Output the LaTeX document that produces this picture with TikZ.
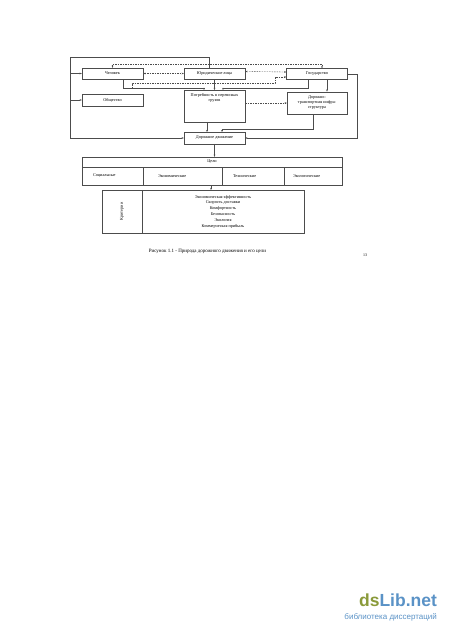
\documentclass[tikz,border=0pt]{standalone}
\usepackage{fontspec}
\setmainfont{Liberation Serif}
\newfontfamily\wmfont{Liberation Sans}
\usetikzlibrary{arrows.meta, positioning, calc}
\definecolor{inkgray}{gray}{0.3}
\definecolor{dsgreen}{HTML}{8A9A3A}
\definecolor{dsblue}{HTML}{5A92C6}
\tikzset{
    blockbox/.style={rectangle, draw=inkgray, line width=0.7pt, minimum width=122pt, minimum height=22pt, inner sep=1pt, align=center, font=\fontsize{8.5}{10}\selectfont},
    cellbox/.style={rectangle, draw=inkgray, line width=0.7pt, inner sep=0pt, font=\fontsize{8.5}{10}\selectfont},
    link/.style={draw=inkgray, line width=0.7pt, ->},
    dlink/.style={link, dash pattern=on 3pt off 2pt},
    plainline/.style={draw=inkgray, line width=0.7pt}
}

\begin{document}
\begin{tikzpicture}[x=2pt, y=-2pt, >={Stealth[length=4.5pt, width=3.5pt]}]
\useasboundingbox (0,0) rectangle (450,637);
% top row
\node[blockbox] (chel) at (112.5,73.5) {Человек};
\node[blockbox] (jur) at (214.5,73.5) {Юридические лица};
\node[blockbox] (gos) at (317,74) {Государство};
% middle row
\node[blockbox, minimum height=24pt] (obsh) at (112.5,100) {Общество};
\node[blockbox, minimum height=63pt] (potr) at (214.5,106) {};
\node[anchor=north, align=center, inner sep=6pt, font=\fontsize{8.5}{10}\selectfont] (potrtxt) at (potr.north) {Потребность в перевозках\\грузов};
\node[blockbox, minimum width=120pt, minimum height=45pt] (dti) at (317,103) {Дорожно-\\транспортная инфра-\\структура};
\node[blockbox, minimum height=23pt] (dd) at (214.5,138) {Дорожное движение};
% goals
\node[cellbox, minimum width=520pt, minimum height=20pt] (celi) at (212,162) {Цели};
\node[cellbox, minimum height=36pt, text width=78pt, inner xsep=22pt, align=left] (cel1) at (112.5,176) {Социальные};
\node[cellbox, minimum height=36pt, text width=98pt, inner xsep=30pt, align=left] (cel2) at (182.5,176) {Экономические};
\node[cellbox, minimum height=36pt, text width=80pt, inner xsep=22pt, align=left] (cel3) at (253,176) {Технические};
\node[cellbox, minimum height=36pt, text width=80pt, inner xsep=18pt, align=left] (cel4) at (313,176) {Экологические};
% criteria
\node[cellbox, rotate=90, minimum width=86pt, minimum height=80pt] (krl) at (122,211.5) {Критерии};
\node[cellbox, minimum width=324pt, minimum height=86pt, align=center, font=\fontsize{8.5}{11.6}\selectfont] (krr) at (223,211.5) {Экономическая эффективность\\Скорость доставки\\Комфортность\\Безопасность\\Экология\\Коммерческая прибыль};
\node[font=\fontsize{10}{12}\selectfont] (capt) at (207.5,251) {Рисунок 1.1 - Природа дорожного движения и его цели};
\node[font=\fontsize{8}{9}\selectfont] (pnum) at (365,255) {13};
% watermark
\node[anchor=east, inner sep=0pt, font=\wmfont\bfseries\fontsize{35}{36}\selectfont] (wm) at (437,600) {\textcolor{dsgreen}{ds}\textcolor{dsblue}{Lib.net}};
\node[anchor=east, inner sep=0pt, text=dsblue, font=\wmfont\fontsize{16}{18}\selectfont] (wmsub) at (437,617) {библиотека диссертаций};

% bends
\coordinate (ltop) at (70,57);
\coordinate (lbot) at (70,138);
\coordinate (rbot) at (357,138);
\coordinate (bus1) at (204,88);
\coordinate (bus2) at (223,88);
\coordinate (bus3) at (222,129);
\coordinate (dtop) at (322,64);
\coordinate (dbr) at (132,88);
\coordinate (dmid) at (275,83);
\coordinate (kin) at (211,190);

% solid links
\draw[plainline] ([xshift=-11pt]jur.north) |- (ltop) -- (lbot);
\draw[link] (lbot) -- (dd.west);
\draw[link] (ltop |- chel.west) -- (chel.west);
\draw[link] (ltop |- obsh.west) -- (obsh.west);
\draw[link] (gos.east) -| (rbot) -- (dd.east);
\draw[link] ([xshift=21pt]chel.south) |- (bus1) -- ([xshift=-21pt]potr.north);
\draw[link] (jur.south) -- (potr.north);
\draw[link] ([xshift=-18pt]gos.south) |- (bus2) -- ([xshift=17pt]potr.north);
\draw[link] ([xshift=20pt]gos.south) -- ([xshift=20pt]dti.north);
\draw[link] ([xshift=-15pt]potr.south) -- ([xshift=-15pt]dd.north);
\draw[link] ([xshift=-8pt]dti.south) |- (bus3) -- ([xshift=15pt]dd.north);
\draw[link] (dd.south) -- (dd.south |- celi.north);
\draw[link] (kin |- cel2.south) -- (kin);

% dashed links
\draw[dlink, <->] (chel.east) -- (jur.west);
\draw[dlink, <->] ([yshift=4pt]jur.east) -- ([yshift=4pt]gos.west);
\draw[dlink, <->] (chel.north) |- (dtop) -- ([xshift=10pt]gos.north);
\draw[dlink] (dbr) |- (dmid) |- ([yshift=-6pt]gos.west);
\draw[dlink] (potr.east |- dti.west) -- (dti.west);
\end{tikzpicture}
\end{document}
